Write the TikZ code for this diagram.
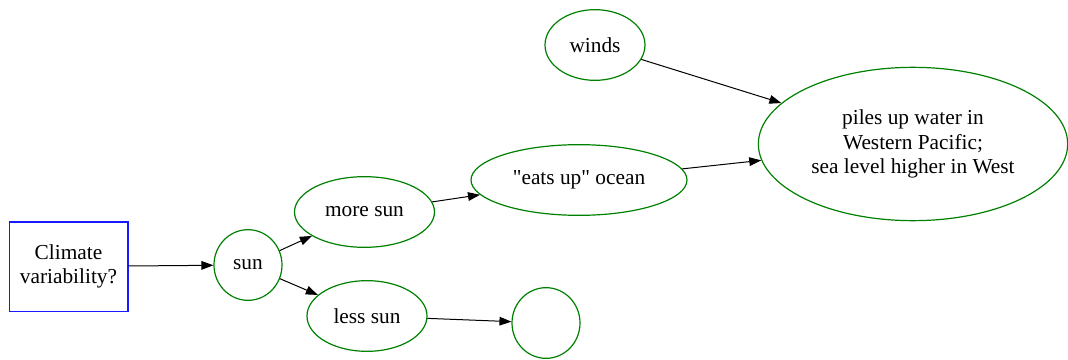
\documentclass[tikz,border=0pt]{standalone}
\usepackage{fontspec}
\setmainfont{Liberation Serif}
\usepackage{xcolor}
\usetikzlibrary{shapes.geometric, arrows.meta}

\definecolor{gvgreen}{RGB}{0,128,0}
\definecolor{gvblue}{rgb}{0.1,0.1,1}

\begin{document}
\begin{tikzpicture}[x=0.75pt, y=-0.75pt,
  idea/.style={ellipse, draw=gvgreen, line width=0.9pt, inner sep=0pt,
               font=\fontsize{16}{18.4}\selectfont, align=center},
  qbox/.style={shape=rectangle, draw=gvblue, line width=1pt, inner sep=0pt,
               font=\fontsize{16}{18.4}\selectfont, align=center,
               minimum width=89pt, minimum height=67pt},
  arrow/.style={-{Triangle[length=9pt,width=6.5pt]}, line width=0.75pt, black}
]
\useasboundingbox (0,0) rectangle (1068,360);

\node[qbox] (cv) at (68.5,266.5) {Climate\\variability?};
\node[idea, minimum width=51pt, minimum height=53pt] (sn) at (248,265) {sun};
\node[idea, minimum width=105pt, minimum height=53pt] (ms) at (364.5,212) {more sun};
\node[idea, minimum width=90pt, minimum height=53pt] (ls) at (367,316) {less sun};
\node[idea, minimum width=51pt, minimum height=53pt] (em) at (546,323) {};
\node[idea, minimum width=162pt, minimum height=53pt] (eo) at (579,180)
  {\textquotedbl eats up\textquotedbl\ ocean};
\node[idea, minimum width=75pt, minimum height=53pt] (wd) at (595,45) {winds};
\node[idea, minimum width=232pt, minimum height=115pt] (pw) at (913,144)
  {piles up water in\\Western Pacific;\\sea level higher in West};

\draw[arrow] (cv) -- (sn);
\draw[arrow] (sn) -- (ms);
\draw[arrow] (sn) -- (ls);
\draw[arrow] (ms) -- (eo);
\draw[arrow] (ls) -- (em);
\draw[arrow] (eo) -- (pw);
\draw[arrow] (wd) -- (pw);
\end{tikzpicture}
\end{document}
